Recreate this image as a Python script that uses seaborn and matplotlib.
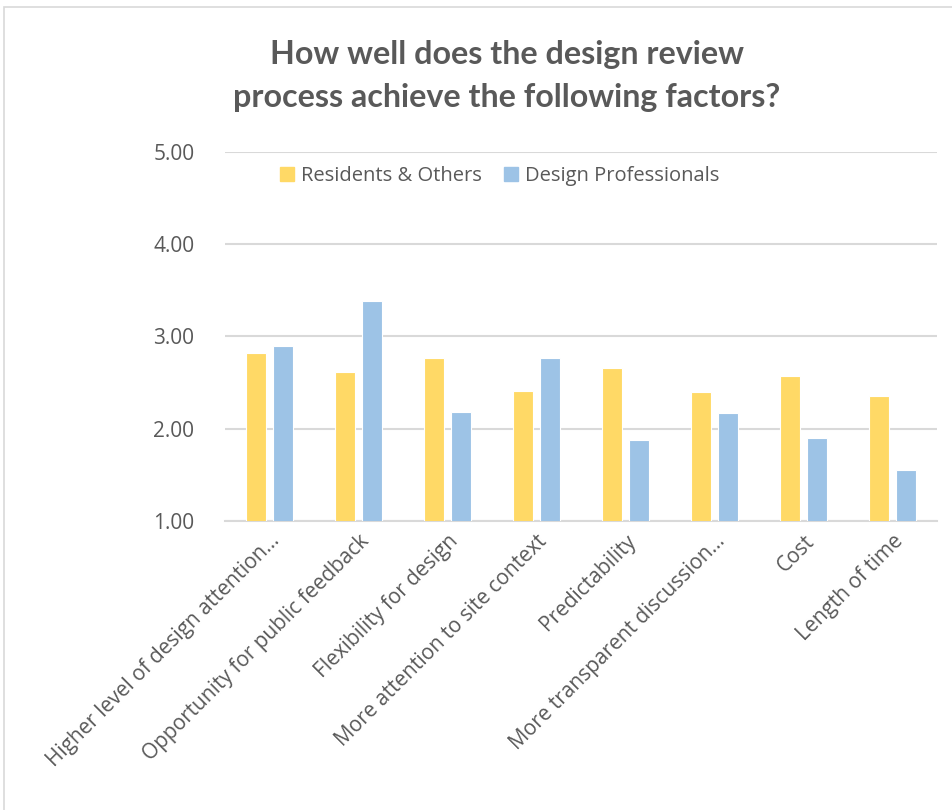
import matplotlib
matplotlib.use("Agg")
import matplotlib.pyplot as plt
import seaborn as sns
import pandas as pd
from matplotlib.patches import Rectangle

categories = [
    "Higher level of design attention…",
    "Opportunity for public feedback",
    "Flexibility for design",
    "More attention to site context",
    "Predictability",
    "More transparent discussion…",
    "Cost",
    "Length of time",
]
residents = [2.82, 2.62, 2.77, 2.41, 2.66, 2.40, 2.57, 2.36]
professionals = [2.90, 3.39, 2.18, 2.77, 1.88, 2.17, 1.90, 1.55]
series_names = ["Residents & Others", "Design Professionals"]
y_ticks = [1.0, 2.0, 3.0, 4.0, 5.0]

df = pd.DataFrame({
    "Factor": categories * 2,
    "Score": residents + professionals,
    "Group": [series_names[0]] * len(categories) + [series_names[1]] * len(categories),
})

sns.set_theme(style="white")
plt.rcParams["font.family"] = ["Open Sans", "DejaVu Sans"]

text_gray = "#595959"
grid_gray = "#D9D9D9"
colors = ["#FFD966", "#9DC3E6"]

fig = plt.figure(figsize=(9.52, 8.10), dpi=100)
ax = fig.add_axes([225 / 952, 1 - 521 / 810, (937 - 225) / 952, (521 - 152) / 810])

sns.barplot(
    data=df, x="Factor", y="Score", hue="Group",
    palette=colors, saturation=1, width=0.607, gap=0.26,
    edgecolor="white", linewidth=0.8, ax=ax, legend=False, zorder=3,
)

ax.set_ylim(1, 5)
ax.set_xlim(-0.5, len(categories) - 0.5)
ax.set_yticks(y_ticks)
ax.set_yticklabels([f"{v:.2f}" for v in y_ticks])
ax.yaxis.grid(True, color=grid_gray, linewidth=1.5, zorder=0)
ax.set_axisbelow(True)
for side in ["left", "right", "top"]:
    ax.spines[side].set_visible(False)
ax.spines["bottom"].set_color(grid_gray)
ax.spines["bottom"].set_linewidth(1.5)
ax.set_xlabel("")
ax.set_ylabel("")
ax.tick_params(axis="y", length=0, pad=22, labelsize=15, labelcolor=text_gray)
ax.tick_params(axis="x", length=0, pad=7, labelsize=15, labelcolor=text_gray)
for lbl in ax.get_xticklabels():
    lbl.set_rotation(45)
    lbl.set_ha("right")
    lbl.set_va("top")
    lbl.set_rotation_mode("anchor")

# Legend with square swatches above the bars
handles = [Rectangle((0, 0), 1, 1, color=c) for c in colors]
fig.legend(
    handles, series_names, loc="center", bbox_to_anchor=(500 / 952, 1 - 176 / 810),
    ncol=2, frameon=False, fontsize=14.5, labelcolor=text_gray,
    handlelength=0.7, handleheight=0.7, handletextpad=0.35, columnspacing=1.1,
)

fig.text(507 / 952, 1 - 76 / 810,
         "How well does the design review\nprocess achieve the following factors?",
         ha="center", va="center", fontsize=23.2, fontweight="bold",
         color=text_gray, family=["Lato", "DejaVu Sans"], linespacing=1.55)

# Thin frame around the chart
fig.patches.append(Rectangle((4 / 952, -0.1), 1.1, 1 - 7 / 810 + 0.1,
                             transform=fig.transFigure, fill=False,
                             edgecolor="#D9D9D9", linewidth=1.2))

fig.savefig("out.png", dpi=100, facecolor="white")
